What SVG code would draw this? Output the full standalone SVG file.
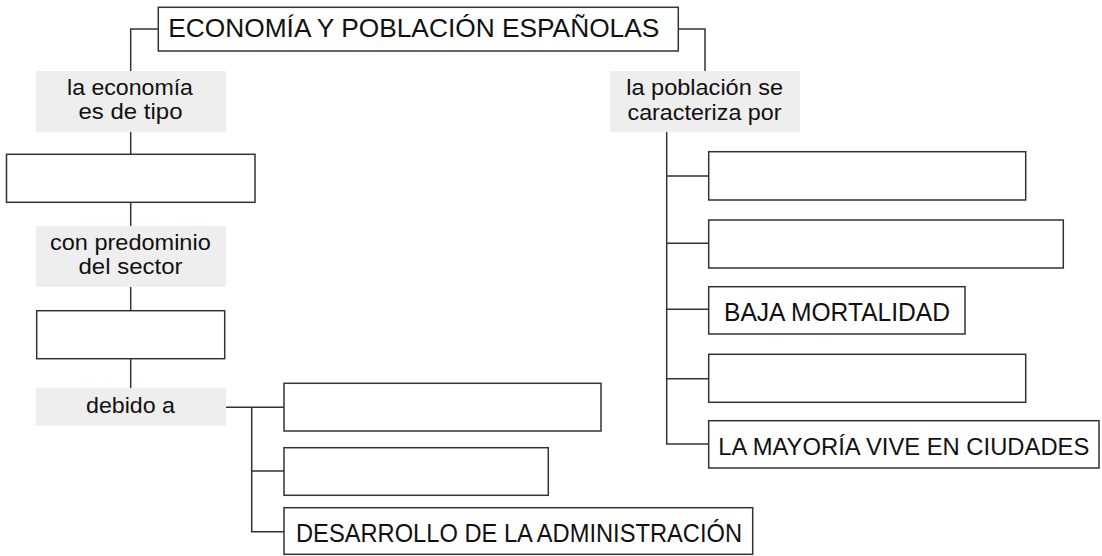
<svg xmlns="http://www.w3.org/2000/svg" width="1102" height="556" viewBox="0 0 1102 556">
<style>
.box{fill:#fff;stroke:#333;stroke-width:1.5}
.lbl{fill:#eeeeee;stroke:none}
.con{fill:none;stroke:#333;stroke-width:1.5}
.t{font-family:"Liberation Sans",Arial,sans-serif;fill:#111}
.cap{font-size:25.5px}
.sm{font-size:21.5px;text-anchor:middle}
</style>
<rect width="1102" height="556" fill="#fff"/>
<g id="connectors">
<path class="con" d="M158.3 29 H130.7 V71"/>
<path class="con" d="M678.3 29 H705 V71"/>
<path class="con" d="M130.7 131.7 V154.3 M130.7 202.3 V226 M130.7 286.7 V310.7 M130.7 358.7 V388.3"/>
<path class="con" d="M226 407.3 H284 M251.7 407.3 V531.7 H284 M251.7 471 H284"/>
<path class="con" d="M666.7 131.7 V444 H708.7 M666.7 176 H708.7 M666.7 243.3 H708.7 M666.7 309.3 H708.7 M666.7 378.7 H708.7"/>
</g>
<g id="title">
<rect class="box" x="158.3" y="7.3" width="520" height="43.7"/>
<text class="t cap" x="168.3" y="37.3" textLength="491" lengthAdjust="spacingAndGlyphs">ECONOMÍA Y POBLACIÓN ESPAÑOLAS</text>
</g>
<g id="lbl-economia">
<rect class="lbl" x="36" y="71" width="190" height="60.7"/>
<text class="t sm" x="130" y="95" textLength="126" lengthAdjust="spacingAndGlyphs">la economía</text>
<text class="t sm" x="130.5" y="118.5" textLength="104" lengthAdjust="spacingAndGlyphs">es de tipo</text>
</g>
<g id="box-tipo">
<rect class="box" x="6.5" y="154.3" width="248.5" height="48"/>
</g>
<g id="lbl-predominio">
<rect class="lbl" x="36" y="226" width="190" height="60.7"/>
<text class="t sm" x="130.4" y="249.5" textLength="160.7" lengthAdjust="spacingAndGlyphs">con predominio</text>
<text class="t sm" x="130.5" y="273.5" textLength="104" lengthAdjust="spacingAndGlyphs">del sector</text>
</g>
<g id="box-sector">
<rect class="box" x="36.7" y="310.7" width="188" height="48"/>
</g>
<g id="lbl-debido">
<rect class="lbl" x="36" y="388.3" width="190" height="37.4"/>
<text class="t sm" x="130.5" y="412.7" textLength="89" lengthAdjust="spacingAndGlyphs">debido a</text>
</g>
<g id="box-causa1">
<rect class="box" x="284" y="383.3" width="317" height="47.7"/>
</g>
<g id="box-causa2">
<rect class="box" x="284" y="447.7" width="264.3" height="47.6"/>
</g>
<g id="box-administracion">
<rect class="box" x="284" y="507.7" width="468.7" height="46.6"/>
<text class="t cap" x="296" y="542.3" textLength="446" lengthAdjust="spacingAndGlyphs">DESARROLLO DE LA ADMINISTRACIÓN</text>
</g>
<g id="lbl-poblacion">
<rect class="lbl" x="610" y="71" width="190" height="60.7"/>
<text class="t sm" x="704.7" y="95" textLength="157" lengthAdjust="spacingAndGlyphs">la población se</text>
<text class="t sm" x="704.5" y="119.5" textLength="154" lengthAdjust="spacingAndGlyphs">caracteriza por</text>
</g>
<g id="box-pob1">
<rect class="box" x="708.7" y="151.7" width="317" height="48.3"/>
</g>
<g id="box-pob2">
<rect class="box" x="708.7" y="220" width="354.6" height="48"/>
</g>
<g id="box-mortalidad">
<rect class="box" x="708.7" y="286.7" width="256.3" height="47.3"/>
<text class="t cap" x="724" y="320.7" textLength="226" lengthAdjust="spacingAndGlyphs">BAJA MORTALIDAD</text>
</g>
<g id="box-pob4">
<rect class="box" x="708.7" y="354.3" width="317" height="48"/>
</g>
<g id="box-ciudades">
<rect class="box" x="708.7" y="420.7" width="390.3" height="47.3"/>
<text class="t" style="font-size:23.5px" x="718.3" y="455" textLength="371" lengthAdjust="spacingAndGlyphs">LA MAYORÍA VIVE EN CIUDADES</text>
</g>
</svg>
